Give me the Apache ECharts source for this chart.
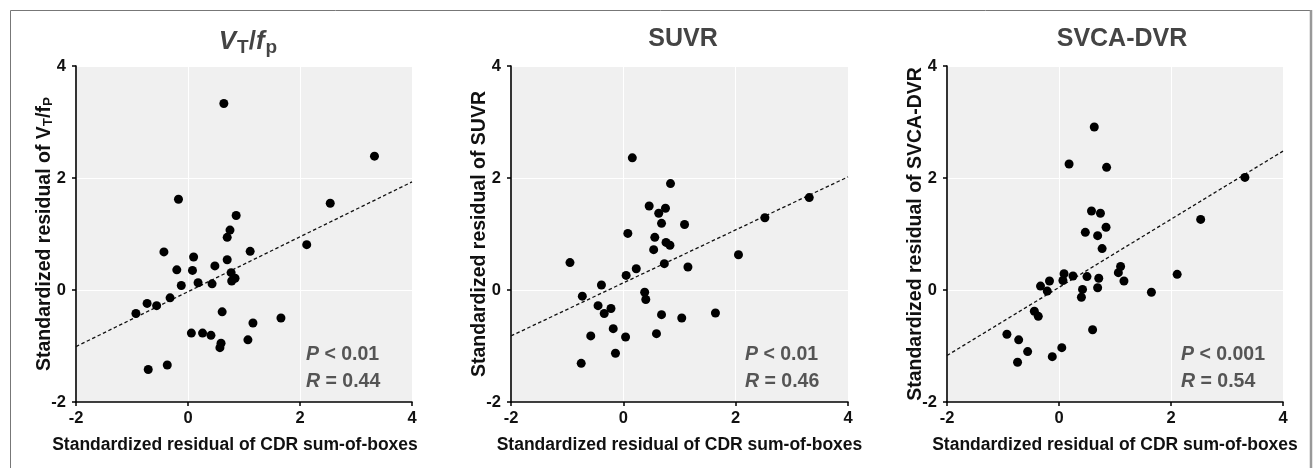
<!DOCTYPE html>
<html>
<head>
<meta charset="utf-8">
<script src="https://cdn.jsdelivr.net/npm/echarts@6/dist/echarts.min.js"></script>
<style>
html,body{margin:0;padding:0;background:#fff;}
#chart{width:1314px;height:468px;}
</style>
</head>
<body>
<div id="chart"></div>
<script>
// ---- data ----
const axisTicks = [-2, 0, 2, 4];

const vtX = [0.64,3.33,2.54,-0.17,0.86,0.75,0.70,2.12,-0.43,1.11,0.10,0.70,-0.20,0.08,0.48,0.77,0.18,0.43,-0.12,0.84,0.78,-0.32,-0.73,-0.56,-0.93,0.61,1.66,1.16,0.06,0.26,0.41,1.07,0.59,0.57,-0.37,-0.71];
const vtY = [3.33,2.39,1.55,1.62,1.33,1.07,0.94,0.81,0.68,0.69,0.59,0.54,0.36,0.35,0.43,0.31,0.13,0.11,0.08,0.21,0.16,-0.14,-0.24,-0.28,-0.42,-0.39,-0.50,-0.59,-0.77,-0.77,-0.81,-0.89,-0.95,-1.03,-1.34,-1.42];
const vtFitX = [-2, 4];
const vtFitY = [-1.01, 1.93];

const suvrX = [0.16,0.84,3.31,0.46,0.75,0.63,0.68,1.09,2.52,0.08,0.56,0.76,0.83,0.54,2.05,-0.95,0.73,1.15,0.23,0.05,-0.39,-0.73,0.38,0.40,-0.45,-0.22,-0.34,0.68,1.04,1.64,-0.18,-0.58,0.04,0.59,-0.14,-0.75];
const suvrY = [2.36,1.90,1.65,1.50,1.46,1.37,1.19,1.17,1.29,1.01,0.94,0.85,0.80,0.72,0.63,0.49,0.47,0.41,0.38,0.26,0.09,-0.11,-0.04,-0.17,-0.28,-0.33,-0.42,-0.44,-0.50,-0.41,-0.69,-0.82,-0.84,-0.78,-1.13,-1.31];
const suvrFitX = [-2, 4];
const suvrFitY = [-0.82, 2.02];

const svcaX = [0.63,0.18,0.85,3.32,2.53,0.58,0.74,0.47,0.69,0.84,0.77,1.10,1.06,1.16,2.11,0.09,0.25,0.07,0.50,0.71,-0.17,-0.33,-0.21,0.42,0.69,0.40,1.65,-0.44,-0.37,0.60,-0.93,-0.72,0.05,-0.56,-0.12,-0.74];
const svcaY = [2.91,2.25,2.19,2.01,1.26,1.41,1.37,1.03,0.97,1.12,0.74,0.42,0.31,0.16,0.28,0.29,0.25,0.17,0.24,0.21,0.16,0.07,-0.02,0.01,0.04,-0.13,-0.04,-0.38,-0.47,-0.71,-0.79,-0.89,-1.03,-1.10,-1.19,-1.29];
const svcaFitX = [-2, 4];
const svcaFitY = [-1.17, 2.48];

const panelTitles = ['{vi|V}{sub|T}{n|/}{fi|f}{sub|p}', 'SUVR', 'SVCA-DVR'];
const yNames = ['Standardized residual of V{s|T}/f{s|P}', 'Standardized residual of SUVR', 'Standardized residual of SVCA-DVR'];
const xName = 'Standardized residual of CDR sum-of-boxes';
const pTexts = ['{pi|P}{n| < 0.01}', '{pi|P}{n| < 0.01}', '{pi|P}{n| < 0.001}'];
const rTexts = ['{pi|R}{n| = 0.44}', '{pi|R}{n| = 0.46}', '{pi|R}{n| = 0.54}'];

// ---- layout ----
const FONT = 'Liberation Sans, Arial, sans-serif';
const grids = [
  {left: 76, top: 66, width: 336, height: 336},
  {left: 511, top: 66, width: 337, height: 336},
  {left: 947, top: 66, width: 336, height: 336}
];
const titleCenters = [243, 678, 1117];
const annLeft = [301, 740, 1176];
const xNamePad = [[0, 18, 0, 0], [0, 0, 0, 0], [0, 0, 0, 0]];

const zip = (a, b) => a.map((v, i) => [v, b[i]]);
const scatterData = [zip(vtX, vtY), zip(suvrX, suvrY), zip(svcaX, svcaY)];
const fitData = [zip(vtFitX, vtFitY), zip(suvrFitX, suvrFitY), zip(svcaFitX, svcaFitY)];

const axisCommon = {
  type: 'value', min: -2, max: 4, interval: 2,
  axisLine: {show: true, onZero: false, lineStyle: {color: '#000', width: 1.6}},
  axisTick: {show: true, inside: false, length: 4, lineStyle: {color: '#000', width: 1.5}},
  splitLine: {show: true, lineStyle: {color: '#ffffff', width: 1}},
  axisLabel: {color: '#111', fontSize: 16.5, fontWeight: 'bold', fontFamily: FONT, margin: 8},
  nameTextStyle: {color: '#111', fontSize: 17.5, fontWeight: 'bold', fontFamily: FONT}
};

const option = {
  backgroundColor: '#fff',
  animation: false,
  grid: grids.map(g => Object.assign({show: true, backgroundColor: '#f0f0f0', borderWidth: 0}, g)),
  xAxis: grids.map((g, i) => Object.assign({}, axisCommon, {
    gridIndex: i, position: 'bottom',
    name: xName, nameLocation: 'middle', nameGap: 34, nameMoveOverlap: false,
    axisLabel: Object.assign({}, axisCommon.axisLabel, {margin: 8}),
    nameTextStyle: Object.assign({}, axisCommon.nameTextStyle, {padding: xNamePad[i]})
  })),
  yAxis: grids.map((g, i) => Object.assign({}, axisCommon, {
    gridIndex: i, position: 'left',
    name: yNames[i], nameLocation: 'middle', nameGap: 21, nameRotate: 90, nameMoveOverlap: false,
    axisLabel: Object.assign({}, axisCommon.axisLabel, {margin: 10}),
    nameTextStyle: Object.assign({}, axisCommon.nameTextStyle, {
      fontSize: 19.5,
      rich: {s: {fontSize: 13.5, fontWeight: 'bold', fontFamily: FONT, color: '#111', verticalAlign: 'bottom', padding: [7, 0, 0, 0]}}
    })
  })),
  title: [].concat(
    panelTitles.map((t, i) => ({
      text: t, left: titleCenters[i], top: 22, textAlign: 'center',
      textStyle: {
        color: '#444', fontSize: 25, fontWeight: 'bold', fontFamily: FONT,
        rich: {
          vi: {fontSize: 26, fontStyle: 'italic', fontWeight: 'bold', color: '#444', fontFamily: FONT},
          fi: {fontSize: 26, fontStyle: 'italic', fontWeight: 'bold', color: '#444', fontFamily: FONT},
          n: {fontSize: 26, fontWeight: 'bold', color: '#444', fontFamily: FONT},
          sub: {fontSize: 19, fontWeight: 'bold', color: '#444', fontFamily: FONT, verticalAlign: 'bottom', padding: [11, 0, 0, 1]}
        }
      }
    })),
    pTexts.map((t, i) => ({
      text: t, left: annLeft[i], top: 340,
      textStyle: {
        fontSize: 19.5, fontWeight: 'bold', color: '#555', fontFamily: FONT,
        rich: {
          pi: {fontSize: 19.5, fontStyle: 'italic', fontWeight: 'bold', color: '#555', fontFamily: FONT},
          n: {fontSize: 19.5, fontWeight: 'bold', color: '#555', fontFamily: FONT}
        }
      }
    })),
    rTexts.map((t, i) => ({
      text: t, left: annLeft[i], top: 367,
      textStyle: {
        fontSize: 19.5, fontWeight: 'bold', color: '#555', fontFamily: FONT,
        rich: {
          pi: {fontSize: 19.5, fontStyle: 'italic', fontWeight: 'bold', color: '#555', fontFamily: FONT},
          n: {fontSize: 19.5, fontWeight: 'bold', color: '#555', fontFamily: FONT}
        }
      }
    }))
  ),
  graphic: [
    {type: 'rect', shape: {x: 10.5, y: 10.5, width: 1300, height: 470}, style: {fill: 'none', stroke: '#777', lineWidth: 1}, silent: true},
    {type: 'line', shape: {x1: 1311, y1: 10, x2: 1311, y2: 468}, style: {stroke: '#999', lineWidth: 2.5}, silent: true}
  ],
  series: [].concat(
    fitData.map((d, i) => ({
      type: 'line', xAxisIndex: i, yAxisIndex: i, data: d,
      symbol: 'none', silent: true, z: 2,
      lineStyle: {color: '#111', width: 1.3, type: [3.5, 2.5]}
    })),
    scatterData.map((d, i) => ({
      type: 'scatter', xAxisIndex: i, yAxisIndex: i, data: d,
      symbol: 'circle', symbolSize: 9, z: 3,
      itemStyle: {color: '#000', opacity: 1}
    }))
  )
};

const chart = echarts.init(document.getElementById('chart'), null, {renderer: 'canvas'});
chart.setOption(option);
</script>
</body>
</html>
